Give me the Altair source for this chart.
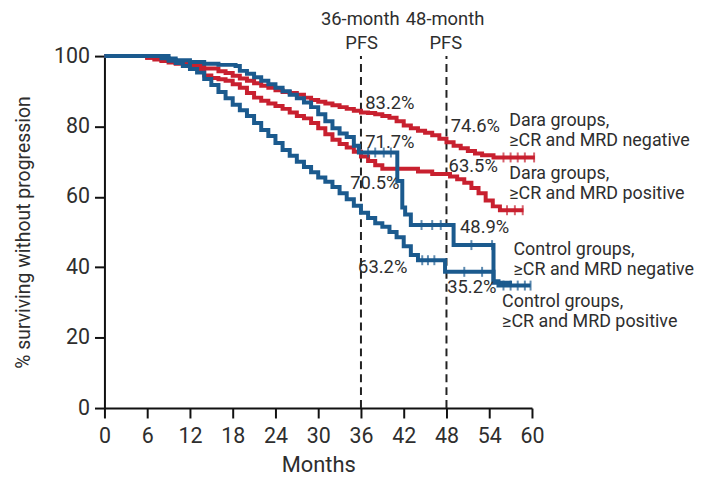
import altair as alt
import pandas as pd

RED = "#c8202f"
BLUE = "#1b5a8e"
TXT = "#2e2e2e"
FONT = "Roboto"

# Kaplan-Meier step curves (month, % progression-free)
dara_neg_m = [0, 5.5, 6, 7, 8, 9, 10, 12, 14, 16, 17, 18, 19, 20, 21, 22, 23, 24, 25, 26, 27, 28, 29, 30, 31, 32, 33, 34, 35, 36, 37, 38, 39, 40, 41, 42, 43, 44, 45, 46, 47, 48, 49, 50, 51, 52, 53, 54.6, 60.4]
dara_neg_p = [100, 100, 99.5, 99, 98.6, 98.2, 97.8, 97.3, 96.5, 95.7, 95.2, 94.4, 93.6, 93, 92.3, 91.6, 91, 90.3, 89.8, 89.5, 89, 88.2, 87.5, 87, 86.5, 86, 85.5, 85, 84.5, 84, 83.8, 83.5, 83, 82.5, 81.5, 80.3, 79.5, 78.8, 78.2, 77.5, 76.5, 75.5, 74.5, 73.8, 73, 72.3, 71.8, 71.2, 71.2]

dara_pos_m = [0, 6, 8, 10, 12, 13, 14, 15, 16, 17, 18, 19, 20, 21, 22, 23, 24, 25, 26, 27, 28, 29, 30, 31, 32, 33, 34, 35, 36, 37, 38, 39, 44, 46, 48.5, 49.5, 50.5, 51.5, 52.5, 53.5, 54.5, 55.5, 58.8]
dara_pos_p = [100, 99.5, 98.8, 98, 97, 96.3, 94.5, 93.8, 93.4, 93, 92, 91, 89.5, 88.2, 87.3, 86.5, 85.8, 85, 84, 83, 82.3, 81, 79.5, 77.8, 76.2, 75, 74, 72.8, 71.5, 70.2, 69, 68, 67.2, 66.5, 65.8, 65, 64, 62.5, 61, 59, 57.3, 56.2, 56.2]

ctrl_neg_m = [0, 8, 9, 10, 12, 14, 16, 18.4, 19, 20, 21, 22, 23, 24, 25, 26, 27, 28, 29, 30, 31, 32, 33, 34, 35, 35.7, 41.1, 41.8, 42.2, 43, 49, 54.6, 57.2]
ctrl_neg_p = [100, 100, 99.3, 98.8, 98.3, 97.8, 97.5, 97.2, 95.8, 95, 94, 93, 92, 91, 90, 89, 88, 86.8, 85.5, 83.5, 81.5, 79.5, 78, 77, 74.5, 72.6, 64.5, 57, 55, 52, 46.3, 35.6, 35.6]

ctrl_pos_m = [0, 7, 8, 9, 10, 11, 12, 13, 14, 15, 16, 17, 18, 19, 20, 21, 22, 23, 24, 25, 26, 27, 28, 29, 30, 31, 32, 33, 34, 35, 36, 37, 38, 39, 40, 41, 42, 43, 44, 47.8, 54.6, 55.3, 59.8]
ctrl_pos_p = [100, 100, 99.4, 98.7, 98, 97.2, 96.3, 95.3, 93.5, 91.8, 89.8, 88, 86.2, 84.6, 83, 81, 79, 77.3, 75.3, 73.3, 71.7, 70, 68.5, 67, 65.5, 64.3, 62.8, 61, 59.3, 57.5, 55.5, 54, 52.5, 51.5, 50, 48.5, 46, 43.5, 42, 38.7, 36, 34.8, 34.8]

# censored observations (month, %)
cens_series = ["ctrl_neg"] * 9 + ["ctrl_pos"] * 10 + ["dara_neg"] * 5 + ["dara_pos"] * 3
cens_m = [37, 38, 39.2, 40.2, 44.5, 46, 47.2, 51.5, 54.4,
          44.6, 45.4, 46.3, 50.5, 53, 56, 57, 58, 59, 59.8,
          56, 57, 58, 59, 60.3,
          56.5, 57.6, 58.7]
cens_p = [72.6, 72.6, 72.6, 72.6, 52, 52, 52, 46.3, 46.3,
          42, 42, 42, 38.7, 38.7, 34.8, 34.8, 34.8, 34.8, 34.8,
          71.2, 71.2, 71.2, 71.2, 71.2,
          56.2, 56.2, 56.2]

ref_months = [36, 48]

head_text = ["36-month", "PFS", "48-month", "PFS"]
head_m = [35.9, 36.1, 47.8, 47.9]
head_p = [110.5, 103.7, 110.5, 103.7]

pct_text = ["83.2%", "71.7%", "70.5%", "63.2%", "74.6%", "63.5%", "48.9%", "35.2%"]
pct_m = [36.6, 36.6, 34.5, 35.6, 48.6, 48.3, 49.9, 48.1]
pct_p = [86.8, 75.5, 63.8, 40.1, 80.2, 68.9, 51.4, 34.5]

ser_text = ["Dara groups,", "≥CR and MRD negative",
            "Dara groups,", "≥CR and MRD positive",
            "Control groups,", "≥CR and MRD negative",
            "Control groups,", "≥CR and MRD positive"]
ser_m = [56.8, 56.8, 56.8, 56.8, 57.4, 57.4, 55.8, 55.8]
ser_p = [81.6, 75.9, 66.6, 60.9, 45.0, 39.3, 30.1, 24.4]

series_names = ["dara_neg", "dara_pos", "ctrl_neg", "ctrl_pos"]
series_colors = [RED, RED, BLUE, BLUE]

rows = []
for name, ms, ps in [("dara_neg", dara_neg_m, dara_neg_p), ("dara_pos", dara_pos_m, dara_pos_p),
                     ("ctrl_neg", ctrl_neg_m, ctrl_neg_p), ("ctrl_pos", ctrl_pos_m, ctrl_pos_p)]:
    for m, p in zip(ms, ps):
        rows.append({"series": name, "month": m, "pct": p})
curves = pd.DataFrame(rows)
cens = pd.DataFrame({"series": cens_series, "month": cens_m, "pct": cens_p})
refs = pd.DataFrame({"month": ref_months, "lo": [0, 0], "hi": [100, 100]})
heads = pd.DataFrame({"text": head_text, "month": head_m, "pct": head_p})
pcts = pd.DataFrame({"text": pct_text, "month": pct_m, "pct": pct_p})
sers = pd.DataFrame({"text": ser_text, "month": ser_m, "pct": ser_p})

xs = alt.Scale(domain=[0, 60], nice=False, zero=False)
ys = alt.Scale(domain=[0, 100], nice=False)
cs = alt.Scale(domain=series_names, range=series_colors)

x_axis = alt.Axis(values=list(range(0, 61, 6)), title="Months", grid=False, labelFlush=False,
                  titlePadding=7, labelPadding=8, titleFontSize=22)
y_axis = alt.Axis(values=[0, 20, 40, 60, 80, 100], title="% surviving without progression",
                  grid=False, labelFlush=False, titlePadding=20, labelPadding=5, titleFontSize=19.5)

lines = alt.Chart(curves).mark_line(interpolate="step-after", strokeWidth=4).encode(
    x=alt.X("month:Q", scale=xs, axis=x_axis),
    y=alt.Y("pct:Q", scale=ys, axis=y_axis),
    color=alt.Color("series:N", scale=cs, legend=None),
    detail="series:N",
    order="month:Q",
)

ticks = alt.Chart(cens).mark_tick(orient="vertical", size=10, thickness=2).encode(
    x=alt.X("month:Q", scale=xs),
    y=alt.Y("pct:Q", scale=ys),
    color=alt.Color("series:N", scale=cs, legend=None),
)

rules = alt.Chart(refs).mark_rule(color="#222222", strokeWidth=2, strokeDash=[8, 5]).encode(
    x=alt.X("month:Q", scale=xs),
    y=alt.Y("lo:Q", scale=ys),
    y2="hi:Q",
)


def text_layer(df, align, size):
    return alt.Chart(df).mark_text(
        align=align, baseline="middle", font=FONT, fontSize=size, color=TXT
    ).encode(
        x=alt.X("month:Q", scale=xs),
        y=alt.Y("pct:Q", scale=ys),
        text="text:N",
    )


chart = alt.layer(
    rules, lines, ticks,
    text_layer(heads, "center", 18.5),
    text_layer(pcts, "left", 18.5),
    text_layer(sers, "left", 18),
).properties(
    width=430, height=354,
    autosize=alt.AutoSizeParams(type="none"),
    padding={"left": 97, "top": 47, "right": 170, "bottom": 70},
).configure_view(stroke=None).configure_axis(
    domainColor="#111111", domainWidth=2, tickColor="#111111", tickWidth=2, tickSize=10,
    labelFont=FONT, labelFontSize=21.5, labelColor=TXT,
    titleFont=FONT, titleFontWeight="normal", titleColor=TXT,
)

chart.save("out.html", embed_options={"renderer": "svg", "actions": False})
